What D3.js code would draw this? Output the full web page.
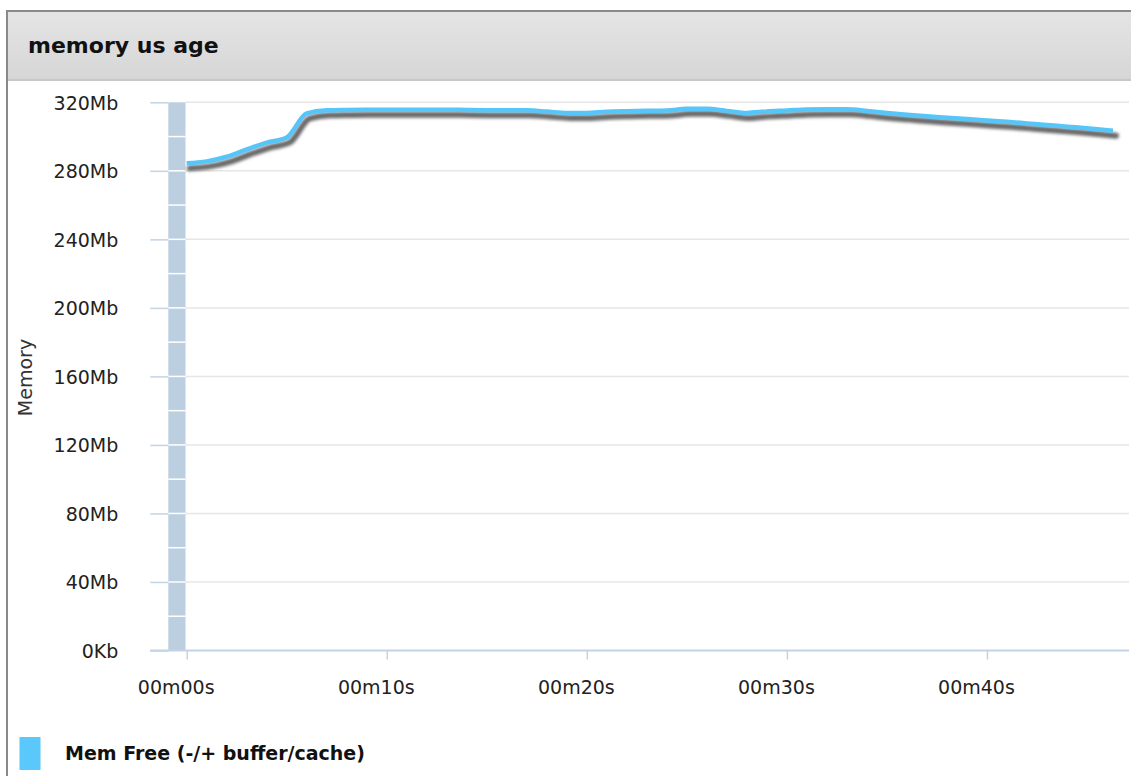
<!DOCTYPE html>
<html>
<head>
<meta charset="utf-8">
<script src="https://cdn.jsdelivr.net/npm/d3@7"></script>
<style>
html,body{margin:0;padding:0;background:#fff;}
svg{display:block;}
</style>
</head>
<body>
<div id="chart"></div>
<script>
// ---- data ----
const chartTitle = "memory us age";
const yAxisTitle = "Memory";
const seriesName = "Mem Free (-/+ buffer/cache)";
const timeSeconds = [0,1,2,3,4,5,6,7,8,9,10,11,12,13,14,15,16,17,18,19,20,21,22,23,24,25,26,27,28,29,30,31,32,33,34,35,36,37,38,39,40,41,42,43,44,45,46.3];
const memFreeMb = [284.4,285.5,288.2,292.5,296.5,299.5,313.5,315.3,315.5,315.6,315.6,315.6,315.6,315.7,315.5,315.4,315.4,315.3,314.6,313.8,313.8,314.5,314.8,315,315.2,316.2,316.3,315,313.8,314.7,315.2,315.8,316,316,315,313.8,312.8,311.8,311,310.2,309.4,308.6,307.7,306.8,305.8,304.9,303.4];
const yTickValues = [0,40,80,120,160,200,240,280,320];
const yTickLabels = ["0Kb","40Mb","80Mb","120Mb","160Mb","200Mb","240Mb","280Mb","320Mb"];
const xTickValues = [0,10,20,30,40];
const xTickLabels = ["00m00s","00m10s","00m20s","00m30s","00m40s"];

// ---- layout ----
const W = 1131, H = 776;
const FONT = "'DejaVu Sans', Verdana, sans-serif";
const svg = d3.select("#chart").append("svg").attr("width", W).attr("height", H);
const defs = svg.append("defs");
const grad = defs.append("linearGradient").attr("id","hdr").attr("x1",0).attr("y1",0).attr("x2",0).attr("y2",1);
grad.append("stop").attr("offset","0%").attr("stop-color","#e5e5e5");
grad.append("stop").attr("offset","100%").attr("stop-color","#d6d6d6");
const blur = defs.append("filter").attr("id","shadowBlur").attr("x","-5%").attr("y","-50%").attr("width","110%").attr("height","200%");
blur.append("feGaussianBlur").attr("stdDeviation",1.4);

// frame + header
svg.append("rect").attr("x",7).attr("y",10).attr("width",W-7).attr("height",70).attr("fill","url(#hdr)");
svg.append("line").attr("x1",7).attr("x2",W).attr("y1",11).attr("y2",11).attr("stroke","#8a8a8a").attr("stroke-width",2);
svg.append("line").attr("x1",7).attr("x2",W).attr("y1",80).attr("y2",80).attr("stroke","#c8c8c8").attr("stroke-width",2);
svg.append("line").attr("x1",7).attr("x2",7).attr("y1",10).attr("y2",H).attr("stroke","#8a8a8a").attr("stroke-width",2);
svg.append("text").attr("x",28).attr("y",53).attr("font-family",FONT).attr("font-weight","bold")
  .attr("font-size",22).attr("fill","#111").text(chartTitle);

// scales
const x = d3.scaleLinear().domain([0, 47.1]).range([186.7, 1129]);
const y = d3.scaleLinear().domain([0, 320]).range([650.5, 102.3]);

// gridlines
svg.append("g").selectAll("line").data(yTickValues.filter(v => v > 0)).join("line")
  .attr("x1",185.5).attr("x2",1129).attr("y1",d=>y(d)).attr("y2",d=>y(d))
  .attr("stroke","#e6e6e6").attr("stroke-width",1.5);

// y-axis band
svg.append("rect").attr("x",168.3).attr("y",y(320)).attr("width",17.2).attr("height",y(0)-y(320)).attr("fill","#bccfe0");
svg.append("g").selectAll("line").data(d3.range(20, 320, 20)).join("line")
  .attr("x1",168.3).attr("x2",185.5).attr("y1",d=>y(d)).attr("y2",d=>y(d))
  .attr("stroke","#ffffff").attr("stroke-width",1.5);

// y axis
const yAxis = d3.axisLeft(y).tickValues(yTickValues).tickFormat((d,i)=>yTickLabels[i]).tickSize(18).tickPadding(32);
const gy = svg.append("g").attr("transform","translate(168.3,0)").call(yAxis);
gy.select(".domain").remove();
gy.selectAll(".tick line").attr("stroke","#c3d3e3").attr("stroke-width",1.5);
gy.selectAll(".tick text").attr("font-family",FONT).attr("font-size",19).attr("fill","#222").attr("dy","0.36em");

// x axis
svg.append("line").attr("x1",150).attr("x2",1129).attr("y1",y(0)).attr("y2",y(0)).attr("stroke","#c3d3e3").attr("stroke-width",2);
const xAxis = d3.axisBottom(x).tickValues(xTickValues).tickFormat((d,i)=>xTickLabels[i]).tickSize(9);
const gx = svg.append("g").attr("transform",`translate(0,${y(0)})`).call(xAxis);
gx.select(".domain").remove();
gx.selectAll(".tick line").attr("stroke","#c3d3e3").attr("stroke-width",1.5);
gx.selectAll(".tick text").attr("font-family",FONT).attr("font-size",19).attr("fill","#222")
  .attr("y",43.5).attr("dy",0).attr("dx",-11);

// y axis title
svg.append("text").attr("transform","translate(32,377.5) rotate(-90)").attr("text-anchor","middle")
  .attr("font-family",FONT).attr("font-size",19).attr("fill","#333").text(yAxisTitle);

// line
const pts = timeSeconds.map((t,i)=>({t, v: memFreeMb[i]}));
const line = d3.line().x(d=>x(d.t)).y(d=>y(d.v)).curve(d3.curveMonotoneX);
svg.append("path").datum(pts).attr("d",line).attr("transform","translate(3,5)")
  .attr("fill","none").attr("stroke","#5a5a5a").attr("stroke-opacity",0.9).attr("stroke-width",6)
  .attr("stroke-linecap","round").attr("stroke-linejoin","round").attr("filter","url(#shadowBlur)");
svg.append("path").datum(pts).attr("d",line)
  .attr("fill","none").attr("stroke","#57c5f7").attr("stroke-width",4.5).attr("stroke-linejoin","round");

// legend
svg.append("rect").attr("x",19.5).attr("y",737).attr("width",21).attr("height",33).attr("fill","#5ac8fa");
svg.append("text").attr("x",65).attr("y",760).attr("font-family",FONT).attr("font-weight","bold")
  .attr("font-size",19).attr("fill","#111").text(seriesName);
</script>
</body>
</html>
